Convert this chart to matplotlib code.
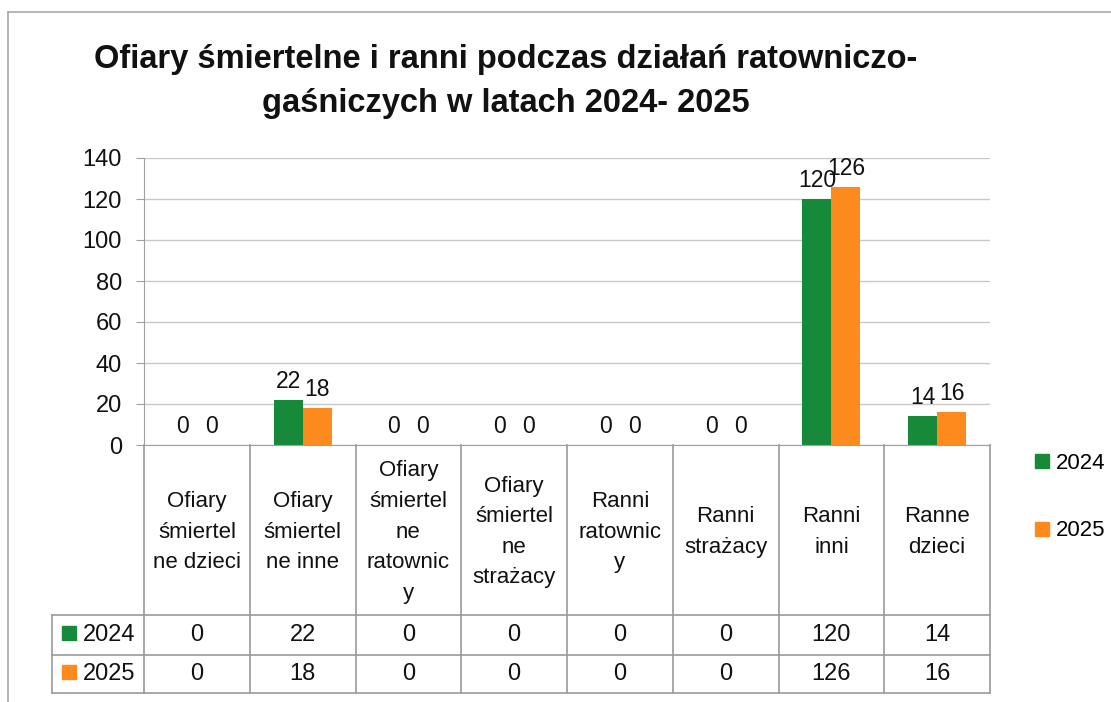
import matplotlib
matplotlib.use("Agg")
import matplotlib.pyplot as plt
from matplotlib.lines import Line2D

plt.rcParams["font.family"] = ["Liberation Sans", "DejaVu Sans"]

TITLE = "Ofiary śmiertelne i ranni podczas działań ratowniczo-\ngaśniczych w latach 2024- 2025"
CATEGORIES = [
    "Ofiary\nśmiertel\nne dzieci",
    "Ofiary\nśmiertel\nne inne",
    "Ofiary\nśmiertel\nne\nratownic\ny",
    "Ofiary\nśmiertel\nne\nstrażacy",
    "Ranni\nratownic\ny",
    "Ranni\nstrażacy",
    "Ranni\ninni",
    "Ranne\ndzieci",
]
SERIES = ["2024", "2025"]
VALUES_2024 = [0, 22, 0, 0, 0, 0, 120, 14]
VALUES_2025 = [0, 18, 0, 0, 0, 0, 126, 16]
YTICKS = [0, 20, 40, 60, 80, 100, 120, 140]
COLORS = ["#178a3a", "#fd8a1c"]
GRID = "#c8c8c8"

W, H = 1111, 702
fig = plt.figure(figsize=(W / 100, H / 100), dpi=100)

# chart area in pixels: x 144..990, y 158..445
x0, x1, ytop, ybase = 144, 990, 158, 445
ax = fig.add_axes([x0 / W, 1 - ybase / H, (x1 - x0) / W, (ybase - ytop) / H])
n = len(CATEGORIES)
ax.set_xlim(-0.5, n - 0.5)
ax.set_ylim(0, 140)
ax.set_yticks(YTICKS)
ax.set_xticks([])
ax.yaxis.grid(True, color=GRID, lw=1)
ax.set_axisbelow(True)
for s in ["top", "right"]:
    ax.spines[s].set_visible(False)
ax.spines["left"].set_color("#a0a0a0")
ax.spines["bottom"].set_color("#a0a0a0")
ax.tick_params(axis="y", length=6, color="#a0a0a0", labelsize=17, labelcolor="#111", pad=10)

w = 0.275
for k, vals in enumerate([VALUES_2024, VALUES_2025]):
    xs = [i + (k - 0.5) * w for i in range(n)]
    ax.bar(xs, vals, width=w, color=COLORS[k], zorder=2)
    for x, v in zip(xs, vals):
        ax.annotate(str(v), (x, v), xytext=(0, 5), textcoords="offset points",
                    ha="center", va="bottom", fontsize=16.5, color="#111")

# data table under the chart
tleft = 52
r1, r2, r3 = 615, 655, 693
tab = fig.add_axes([tleft / W, 1 - r3 / H, (x1 - tleft) / W, (r3 - ybase) / H])
tab.set_xlim(-0.5 - (x0 - tleft) / ((x1 - x0) / n), n - 0.5)
tab.set_ylim(r3, ybase)
tab.axis("off")
lc = "#9a9a9a"
lx = tab.get_xlim()[0]
for b in range(n + 1):
    tab.plot([b - 0.5, b - 0.5], [ybase, r3], color=lc, lw=1.2, clip_on=False)
tab.plot([lx, lx], [r1, r3], color=lc, lw=1.2, clip_on=False)
for yy in (r1, r2, r3):
    tab.plot([lx, n - 0.5], [yy, yy], color=lc, lw=1.2, clip_on=False)
for i, lab in enumerate(CATEGORIES):
    tab.text(i, (ybase + r1) / 2 + 2, lab, ha="center", va="center", fontsize=16,
             linespacing=1.6, color="#111")
for k, (name, vals) in enumerate(zip(SERIES, [VALUES_2024, VALUES_2025])):
    yc = [(r1 + r2) / 2, (r2 + r3) / 2][k]
    tab.plot(lx + 0.16, yc - 2, marker="s", ms=10, color=COLORS[k], ls="")
    tab.text(lx + 0.29, yc, name, ha="left", va="center", fontsize=17, color="#111")
    for i, v in enumerate(vals):
        tab.text(i, yc, str(v), ha="center", va="center", fontsize=17, color="#111")

fig.suptitle(TITLE, x=0.455, y=0.937, fontsize=23.5, fontweight="bold", linespacing=1.55, color="#111")

handles = [Line2D([0], [0], marker="s", ls="", color=c, ms=10, label=s) for c, s in zip(COLORS, SERIES)]
fig.legend(handles=handles, loc="center left", bbox_to_anchor=(0.912, 0.292), frameon=False,
           fontsize=16, labelspacing=2.1, handletextpad=0.2, handlelength=0.8)

# outer chart border
fig.add_artist(Line2D([8 / W, 8 / W], [0, 1 - 12 / H], color="#a8a8a8", lw=1.2))
fig.add_artist(Line2D([8 / W, 1], [1 - 12 / H, 1 - 12 / H], color="#a8a8a8", lw=1.2))

fig.savefig("out.png", dpi=100, facecolor="white")
